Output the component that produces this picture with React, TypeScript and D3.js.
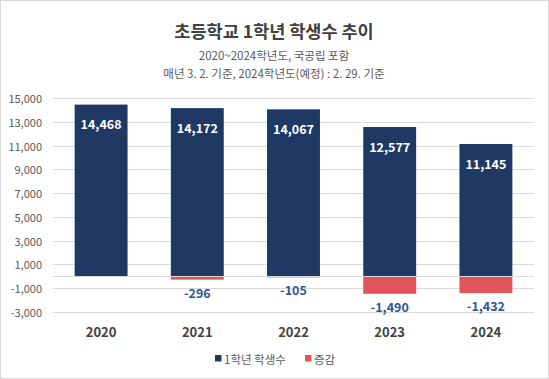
import React from "react";
import * as d3 from "d3";

const years = ["2020", "2021", "2022", "2023", "2024"];
const students = [14468, 14172, 14067, 12577, 11145];
const changes: (number | null)[] = [null, -296, -105, -1490, -1432];
const yTicks = [15000, 13000, 11000, 9000, 7000, 5000, 3000, 1000, -1000, -3000];

const W = 549;
const H = 379;
const FONT = "'Noto Sans CJK KR', 'Noto Sans', sans-serif";
const NAVY = "#203864";
const RED = "#DF5558";
const GRID = "#d9d9d9";

export default function App() {
  const left = 53;
  const right = 534;
  const y = d3.scaleLinear().domain([-3000, 15000]).range([311.7, 98.3]);
  const x = d3.scaleBand().domain(years).range([left, right]).paddingInner(0.45).paddingOuter(0.225);
  const f = d3.format(",");
  const fmt = (v: number) => f(v).replace("\u2212", "-");
  const bw = x.bandwidth();

  return (
    <svg
      width={W}
      height={H}
      style={{ position: "absolute", left: 0, top: 0, background: "#fff" }}
      fontFamily={FONT}
    >
      <rect x={0.5} y={0.5} width={W - 1} height={H - 1} fill="#fff" stroke={GRID} />
      <text x={274} y={30} textAnchor="middle" dominantBaseline="central" fontSize={17.5} fontWeight="bold" fill="#404040">
        초등학교 1학년 학생수 추이
      </text>
      <text x={274} y={55} textAnchor="middle" dominantBaseline="central" fontSize={11.5} fill="#595959">
        2020~2024학년도, 국공립 포함
      </text>
      <text x={274} y={72.5} textAnchor="middle" dominantBaseline="central" fontSize={11.5} fill="#595959">
        매년 3. 2. 기준, 2024학년도(예정) : 2. 29. 기준
      </text>

      {yTicks.map((t) => (
        <g key={t}>
          <line x1={left} x2={right} y1={Math.round(y(t)) + 0.5} y2={Math.round(y(t)) + 0.5} stroke={GRID} strokeWidth={1} />
          <text x={42} y={y(t)} textAnchor="end" dominantBaseline="central" fontSize={11} fill="#595959">
            {fmt(t)}
          </text>
        </g>
      ))}

      {years.map((yr, i) => {
        const bx = x(yr)!;
        const v = students[i];
        const c = changes[i];
        return (
          <g key={yr}>
            <rect x={bx} y={y(v)} width={bw} height={y(0) - y(v)} fill={NAVY} />
            {c !== null && <rect x={bx} y={y(0)} width={bw} height={y(c) - y(0)} fill={RED} />}
          </g>
        );
      })}

      <line x1={left} x2={right} y1={Math.round(y(0)) + 0.5} y2={Math.round(y(0)) + 0.5} stroke={GRID} strokeWidth={1} />

      {years.map((yr, i) => {
        const cx = x(yr)! + bw / 2;
        const v = students[i];
        const c = changes[i];
        return (
          <g key={"l" + yr}>
            <text x={cx} y={y(v) + 19} textAnchor="middle" dominantBaseline="central" fontSize={12.5} fontWeight="bold" fill="#fff">
              {fmt(v)}
            </text>
            {c !== null && (
              <text x={cx} y={y(c) + 12.5} textAnchor="middle" dominantBaseline="central" fontSize={12.5} fontWeight="bold" fill="#2F5597">
                {fmt(c)}
              </text>
            )}
            <text x={cx} y={331} textAnchor="middle" dominantBaseline="central" fontSize={13} fontWeight="bold" fill="#404040">
              {yr}
            </text>
          </g>
        );
      })}

      <rect x={215} y={355} width={6.5} height={6.5} fill={NAVY} />
      <text x={224} y={358.5} dominantBaseline="central" fontSize={11.5} fill="#595959">
        1학년 학생수
      </text>
      <rect x={305} y={355} width={6.5} height={6.5} fill={RED} />
      <text x={314} y={358.5} dominantBaseline="central" fontSize={11.5} fill="#595959">
        증감
      </text>
    </svg>
  );
}
